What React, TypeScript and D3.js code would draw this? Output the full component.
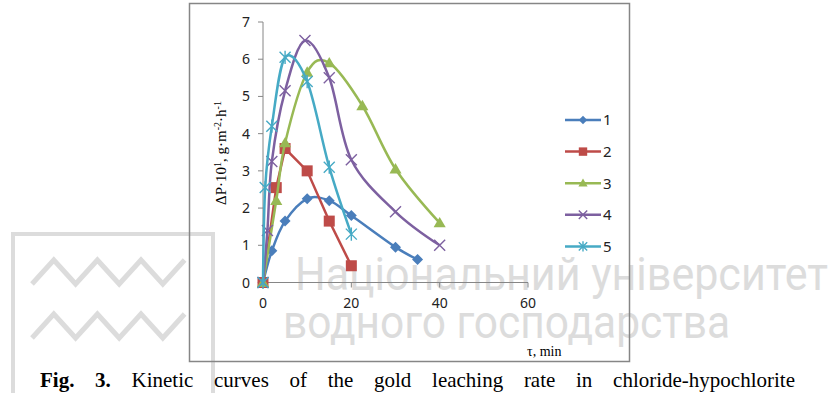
import * as d3 from "d3";
import { useEffect, useRef } from "react";

// time, min
const times1 = [0, 2, 5, 10, 15, 20, 30, 35];
const times2 = [0, 3, 5, 10, 15, 20];
const times3 = [0, 3, 5, 10, 15, 22.5, 30, 40];
const times4 = [0, 1, 2, 5, 9.5, 15, 20, 30, 40];
const times5 = [0, 0.5, 2, 5, 10, 15, 20];

// leaching rate, ΔP·10¹ g·m-2·h-1
const rate1 = [0, 0.85, 1.65, 2.25, 2.2, 1.8, 0.95, 0.62];
const rate2 = [0, 2.55, 3.6, 3.0, 1.65, 0.45];
const rate3 = [0, 2.2, 3.75, 5.65, 5.9, 4.75, 3.05, 1.6];
const rate4 = [0, 1.4, 3.25, 5.15, 6.5, 5.5, 3.3, 1.9, 1.0];
const rate5 = [0, 2.55, 4.2, 6.05, 5.4, 3.1, 1.3];

const seriesNames = ["1", "2", "3", "4", "5"];
const xTicks = [0, 20, 40, 60];
const yTicks = [0, 1, 2, 3, 4, 5, 6, 7];

const captionWords = ["Fig.", "3.", "Kinetic", "curves", "of", "the", "gold", "leaching", "rate", "in", "chloride-hypochlorite"];

const colors = ["#4a7ebb", "#be4b48", "#98b954", "#7d60a0", "#46aac5"];
const markers = ["diamond", "square", "triangle", "cross", "star"];
const smooth = [true, false, true, true, true];

const App = () => {
  const ref = useRef<SVGSVGElement | null>(null);

  useEffect(() => {
    const svg = d3.select(ref.current);
    svg.selectAll("*").remove();

    const wm = "#dcdcdc";
    const gray = "#868686";

    // watermark (logo + university name)
    const logo = svg.append("g");
    logo.append("rect").attr("x", 13).attr("y", 234).attr("width", 200).attr("height", 200)
      .attr("fill", "none").attr("stroke", wm).attr("stroke-width", 4);
    [272, 326].forEach((cy) => {
      const pts: [number, number][] = [];
      for (let i = 0; i <= 7; i++) {
        pts.push([32 + i * 21.8, cy + (i % 2 === 0 ? 12 : -12)]);
      }
      logo.append("path").attr("d", d3.line()(pts)).attr("fill", "none")
        .attr("stroke", wm).attr("stroke-width", 5);
    });
    svg.append("text").attr("x", 295).attr("y", 290).attr("font-family", "Roboto")
      .attr("font-size", 46).attr("fill", wm).attr("textLength", 533)
      .attr("lengthAdjust", "spacingAndGlyphs").text("Національний університет");
    svg.append("text").attr("x", 283).attr("y", 338).attr("font-family", "Roboto")
      .attr("font-size", 46).attr("fill", wm).attr("textLength", 447)
      .attr("lengthAdjust", "spacingAndGlyphs").text("водного господарства");

    // chart frame
    svg.append("rect").attr("x", 189.5).attr("y", 3.5).attr("width", 440).attr("height", 358)
      .attr("fill", "none").attr("stroke", gray).attr("stroke-width", 1.5);

    const x = d3.scaleLinear().domain([0, 60]).range([263, 528]);
    const y = d3.scaleLinear().domain([0, 7]).range([282.5, 22]);

    const sans = "'Noto Sans', sans-serif";

    // axes
    svg.append("line").attr("x1", x(0)).attr("x2", x(0)).attr("y1", y(0)).attr("y2", y(7))
      .attr("stroke", gray);
    svg.append("line").attr("x1", x(0)).attr("x2", x(60)).attr("y1", y(0)).attr("y2", y(0))
      .attr("stroke", gray);
    yTicks.forEach((t) => {
      svg.append("line").attr("x1", x(0) - 5).attr("x2", x(0)).attr("y1", y(t)).attr("y2", y(t))
        .attr("stroke", gray);
      svg.append("text").attr("x", x(0) - 13).attr("y", y(t)).attr("dy", "0.36em")
        .attr("text-anchor", "end").attr("font-family", sans).attr("font-size", 14)
        .attr("fill", "#222").text(t);
    });
    xTicks.forEach((t) => {
      svg.append("line").attr("x1", x(t)).attr("x2", x(t)).attr("y1", y(0)).attr("y2", y(0) + 5)
        .attr("stroke", gray);
      svg.append("text").attr("x", x(t)).attr("y", 308).attr("text-anchor", "middle")
        .attr("font-family", sans).attr("font-size", 14).attr("fill", "#222").text(t);
    });

    // axis titles
    const yt = svg.append("text").attr("transform", "translate(226,153) rotate(-90)")
      .attr("text-anchor", "middle").attr("font-family", "'Liberation Serif', serif")
      .attr("font-size", 15).attr("fill", "#000");
    yt.append("tspan").text("ΔP·10");
    yt.append("tspan").attr("baseline-shift", "super").attr("font-size", 10).text("1");
    yt.append("tspan").text(", g·m");
    yt.append("tspan").attr("baseline-shift", "super").attr("font-size", 10).text("-2");
    yt.append("tspan").text("·h");
    yt.append("tspan").attr("baseline-shift", "super").attr("font-size", 10).text("-1");

    svg.append("text").attr("x", 527).attr("y", 356).attr("font-family", "'Liberation Serif', serif")
      .attr("font-size", 14).attr("fill", "#000").text("τ, min");

    const drawMarker = (g: any, kind: string, color: string, s: number) => {
      if (kind === "diamond") {
        g.append("path").attr("d", `M0,${-s}L${s},0L0,${s}L${-s},0Z`).attr("fill", color);
      } else if (kind === "square") {
        g.append("rect").attr("x", -s).attr("y", -s).attr("width", 2 * s).attr("height", 2 * s)
          .attr("fill", color);
      } else if (kind === "triangle") {
        g.append("path").attr("d", `M0,${-s * 1.1}L${s * 1.1},${s * 0.8}L${-s * 1.1},${s * 0.8}Z`)
          .attr("fill", color);
      } else if (kind === "cross") {
        g.append("path").attr("d", `M${-s},${-s}L${s},${s}M${-s},${s}L${s},${-s}`)
          .attr("stroke", color).attr("stroke-width", 1.4).attr("fill", "none");
      } else {
        g.append("path")
          .attr("d", `M${-s},${-s}L${s},${s}M${-s},${s}L${s},${-s}M0,${-s * 1.2}L0,${s * 1.2}`)
          .attr("stroke", color).attr("stroke-width", 1.4).attr("fill", "none");
      }
    };

    const allTimes = [times1, times2, times3, times4, times5];
    const allRates = [rate1, rate2, rate3, rate4, rate5];

    allTimes.forEach((ts, i) => {
      const pts = ts.map((t, j) => [t, allRates[i][j]] as [number, number]);
      const line = d3.line<[number, number]>()
        .x((d) => x(d[0]))
        .y((d) => y(d[1]))
        .curve(smooth[i] ? d3.curveCardinal.tension(0) : d3.curveLinear);
      svg.append("path").attr("d", line(pts)).attr("fill", "none").attr("stroke", colors[i])
        .attr("stroke-width", 2.5);
      pts.forEach((p) => {
        const g = svg.append("g").attr("transform", `translate(${x(p[0])},${y(p[1])})`);
        drawMarker(g, markers[i], colors[i], 5.5);
      });
    });

    // legend
    seriesNames.forEach((name, i) => {
      const ly = 120 + i * 31.6;
      svg.append("line").attr("x1", 565).attr("x2", 601).attr("y1", ly).attr("y2", ly)
        .attr("stroke", colors[i]).attr("stroke-width", 2.5);
      const g = svg.append("g").attr("transform", `translate(583,${ly})`);
      drawMarker(g, markers[i], colors[i], 4.2);
      svg.append("text").attr("x", 603).attr("y", ly).attr("dy", "0.36em")
        .attr("font-family", sans).attr("font-size", 15).attr("fill", "#222").text(name);
    });

    // justified caption
    const cap = svg.append("g");
    const nodes = captionWords.map((w, i) =>
      cap.append("text").attr("y", 387).attr("font-family", "'Liberation Serif', serif")
        .attr("font-size", 21).attr("font-weight", i < 2 ? "bold" : "normal")
        .attr("fill", "#000").text(w)
    );
    const widths = nodes.map((n) => (n.node() as SVGTextElement).getComputedTextLength());
    const gap = (795 - 40 - d3.sum(widths)) / (widths.length - 1);
    let cx = 40;
    nodes.forEach((n, i) => {
      n.attr("x", cx);
      cx += widths[i] + gap;
    });
  }, []);

  return (
    <svg ref={ref} width={833} height={393}
      style={{ position: "absolute", left: 0, top: 0, background: "#fff" }} />
  );
};

export default App;
